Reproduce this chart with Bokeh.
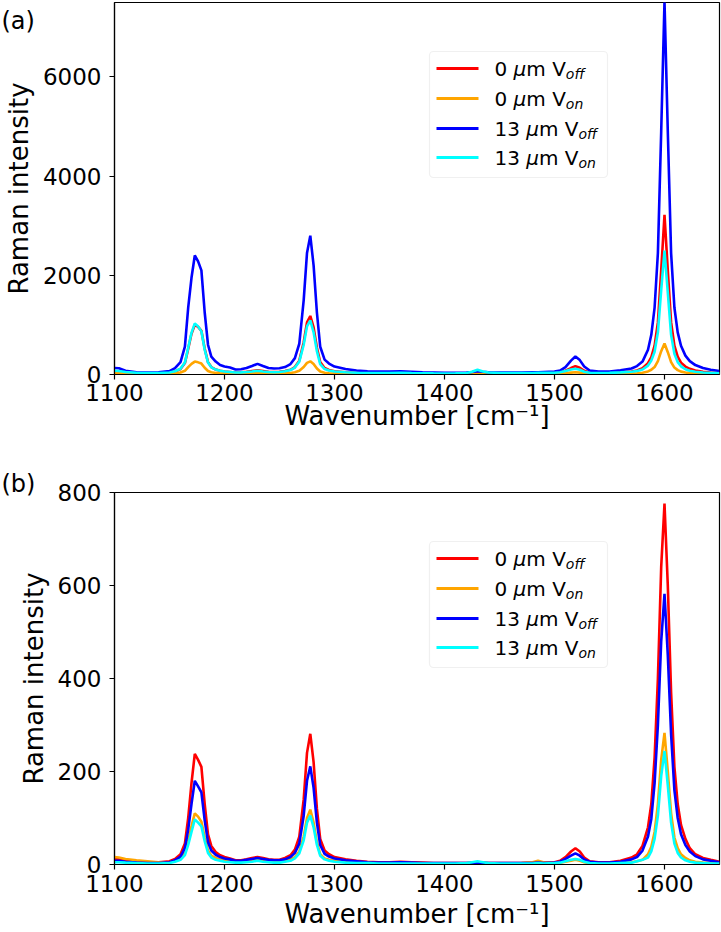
from bokeh.plotting import figure
from bokeh.models import Range1d, FixedTicker, Label, BoxAnnotation, GridBox, Column
from bokeh.embed import file_html
from bokeh.resources import INLINE

# ---------------- data ----------------
wavenumber = [
    1100, 1104, 1110, 1120, 1130, 1140, 1150, 1155, 1160, 1164,
    1167, 1170, 1173, 1176, 1179, 1182, 1185, 1188, 1192, 1196,
    1200, 1205, 1210, 1215, 1220, 1225, 1230, 1235, 1240, 1245,
    1250, 1255, 1260, 1264, 1268, 1272, 1275, 1278, 1281, 1284,
    1287, 1291, 1295, 1300, 1310, 1320, 1330, 1340, 1350, 1360,
    1370, 1380, 1390, 1400, 1410, 1420, 1425, 1430, 1435, 1440,
    1450, 1460, 1470, 1480, 1485, 1490, 1500, 1505, 1510, 1515,
    1519, 1523, 1527, 1532, 1540, 1550, 1560, 1570, 1575, 1580,
    1585, 1588, 1591, 1594, 1597, 1600, 1603, 1606, 1609, 1612,
    1615, 1619, 1623, 1628, 1635, 1642, 1650]

# panel (a)
a_0um_off = [
    60, 58, 45, 30, 25, 25, 35, 60, 110, 230,
    520, 820, 1000, 960, 880, 520, 250, 150, 100, 75,
    60, 50, 40, 45, 55, 70, 85, 70, 55, 50,
    55, 70, 95, 150, 280, 650, 1050, 1180, 950, 540,
    250, 130, 90, 65, 45, 35, 30, 28, 28, 30,
    25, 22, 20, 18, 18, 22, 30, 45, 35, 25,
    20, 20, 20, 25, 28, 25, 30, 40, 75, 130,
    168, 135, 75, 40, 30, 30, 45, 60, 80, 125,
    230, 350, 580, 1050, 2100, 3220, 2100, 1050, 580, 360,
    240, 160, 115, 80, 55, 40, 30]
a_0um_on = [
    35, 33, 25, 15, 12, 12, 15, 25, 40, 75,
    150, 215, 260, 245, 220, 135, 70, 45, 32, 25,
    20, 18, 15, 16, 18, 22, 28, 22, 18, 16,
    17, 22, 30, 45, 75, 150, 235, 265, 210, 120,
    60, 35, 25, 20, 15, 12, 10, 10, 10, 10,
    9, 8, 8, 8, 8, 10, 14, 20, 14, 10,
    9, 9, 10, 15, 25, 15, 12, 15, 25, 38,
    47, 38, 22, 12, 9, 9, 13, 20, 25, 36,
    62, 95, 150, 270, 470, 625, 450, 250, 140, 88,
    58, 40, 28, 20, 14, 10, 8]
a_13um_off = [
    130, 125, 75, 45, 40, 45, 70, 130, 250, 560,
    1350, 1950, 2400, 2280, 2100, 1250, 600, 360, 260, 190,
    160, 140, 100, 105, 130, 170, 215, 170, 130, 120,
    125, 150, 210, 330, 620, 1500, 2450, 2800, 2200, 1250,
    560, 300, 220, 160, 110, 80, 65, 60, 60, 65,
    55, 45, 40, 35, 35, 40, 50, 67, 55, 45,
    40, 40, 40, 45, 45, 50, 60, 80, 150, 280,
    364, 290, 160, 80, 60, 60, 85, 120, 170, 260,
    500, 800, 1350, 2450, 4900, 7520, 4900, 2450, 1350, 850,
    580, 380, 270, 190, 130, 95, 72]
a_13um_on = [
    75, 70, 50, 35, 30, 30, 40, 65, 115, 240,
    540, 840, 1030, 970, 870, 500, 240, 145, 100, 75,
    60, 50, 40, 42, 50, 62, 75, 62, 50, 45,
    50, 65, 90, 140, 260, 600, 970, 1090, 850, 470,
    210, 110, 80, 60, 45, 35, 30, 30, 30, 32,
    28, 25, 22, 20, 22, 30, 55, 95, 60, 40,
    30, 28, 28, 30, 35, 32, 35, 45, 70, 100,
    115, 95, 55, 35, 30, 32, 42, 55, 70, 100,
    180, 280, 460, 850, 1700, 2500, 1650, 800, 420, 250,
    165, 105, 75, 55, 40, 32, 26]

# panel (b)
b_0um_off = [
    12, 11, 8, 6, 5, 5, 7, 12, 22, 45,
    100, 175, 238, 225, 210, 130, 65, 40, 27, 20,
    16, 13, 9, 9, 11, 14, 16, 14, 11, 10,
    10, 14, 20, 32, 60, 140, 240, 281, 220, 120,
    55, 30, 22, 16, 11, 8, 6, 5, 5, 6,
    5, 4, 3, 3, 3, 3, 4, 5, 4, 3,
    3, 3, 3, 4, 5, 4, 5, 8, 16, 28,
    35, 28, 15, 7, 5, 5, 8, 15, 22, 40,
    80, 130, 230, 400, 640, 776, 600, 370, 210, 130,
    85, 55, 35, 22, 14, 10, 6]
b_0um_on = [
    16, 15, 12, 9, 7, 5, 5, 8, 13, 25,
    50, 82, 110, 103, 92, 58, 30, 19, 14, 11,
    9, 8, 6, 6, 7, 8, 10, 8, 7, 6,
    6, 8, 11, 16, 28, 60, 100, 118, 90, 48,
    22, 13, 10, 8, 6, 5, 4, 3, 3, 3,
    3, 2, 2, 2, 2, 2, 3, 4, 3, 2,
    2, 2, 3, 5, 8, 5, 3, 4, 6, 8,
    10, 8, 5, 3, 2, 2, 3, 5, 7, 10,
    22, 38, 70, 130, 225, 283, 200, 110, 58, 35,
    22, 14, 9, 6, 4, 3, 2]
b_13um_off = [
    8, 8, 6, 4, 3, 3, 5, 9, 17, 35,
    75, 130, 180, 168, 155, 95, 48, 30, 21, 16,
    13, 11, 8, 8, 10, 12, 14, 12, 10, 9,
    9, 11, 16, 25, 45, 105, 180, 211, 165, 90,
    42, 23, 17, 13, 9, 7, 5, 4, 4, 5,
    4, 3, 3, 3, 3, 3, 3, 4, 3, 3,
    3, 3, 3, 3, 4, 3, 4, 6, 12, 19,
    24, 19, 11, 6, 4, 4, 6, 11, 16, 30,
    60, 98, 175, 300, 480, 582, 450, 280, 160, 100,
    65, 42, 28, 18, 11, 8, 5]
b_13um_on = [
    5, 5, 4, 3, 2, 2, 3, 6, 10, 20,
    42, 70, 97, 90, 82, 50, 25, 15, 10, 8,
    6, 5, 4, 4, 5, 6, 8, 6, 5, 4,
    4, 6, 8, 13, 24, 52, 90, 105, 80, 42,
    19, 11, 8, 6, 4, 3, 3, 2, 2, 2,
    2, 2, 2, 2, 2, 3, 5, 7, 5, 3,
    2, 2, 2, 2, 3, 2, 3, 4, 7, 10,
    12, 10, 6, 3, 2, 2, 3, 4, 7, 10,
    15, 28, 55, 105, 190, 244, 170, 90, 45, 25,
    15, 9, 6, 4, 3, 2, 2]

x_ticks = [1100, 1200, 1300, 1400, 1500, 1600]
a_y_ticks = [0, 2000, 4000, 6000]
b_y_ticks = [0, 200, 400, 600, 800]

series_colors = ["#ff0000", "#ffa500", "#0000ff", "#00ffff"]
legend_prefix = ["0 ", "0 ", "13 ", "13 "]
legend_sub = ["off", "on", "off", "on"]

FONT = "DejaVu Sans"
# approximate DejaVu Sans advance widths (em)
ADV = {"0": 0.636, "1": 0.636, "3": 0.636, " ": 0.318, "μ": 0.636,
       "m": 0.974, "V": 0.684}


def text_width(s, size):
    return sum(ADV.get(ch, 0.6) for ch in s) * size


def add_legend(p, frame_h):
    # geometry in screen px relative to frame (left, bottom)
    box_left, box_right = 315, 493
    box_top_off, box_bot_off = 49, 175
    p.add_layout(BoxAnnotation(
        left=box_left, right=box_right,
        top=frame_h - box_top_off, bottom=frame_h - box_bot_off,
        left_units="screen", right_units="screen",
        top_units="screen", bottom_units="screen",
        fill_color="white", fill_alpha=0.85,
        line_color="#cccccc", line_width=1.2, border_radius=4))
    rows = [66, 96, 126, 155]
    fs = 20
    for i, c in enumerate(series_colors):
        yc = frame_h - rows[i]
        p.add_layout(BoxAnnotation(
            left=322, right=364, top=yc + 1.4, bottom=yc - 1.4,
            left_units="screen", right_units="screen",
            top_units="screen", bottom_units="screen",
            fill_color=c, fill_alpha=1.0, line_color=None))
        base = yc - 0.5
        x = 380
        pieces = [(legend_prefix[i], "normal"), ("μ", "italic"), ("m V", "normal")]
        for txt, style in pieces:
            p.add_layout(Label(x=x, y=base, x_units="screen", y_units="screen",
                               text=txt, text_font=FONT, text_font_size=f"{fs}px",
                               text_font_style=style, text_color="black",
                               text_baseline="alphabetic", text_align="left"))
            x += text_width(txt, fs)
        p.add_layout(Label(x=x, y=base - 5, x_units="screen", y_units="screen",
                           text=legend_sub[i], text_font=FONT, text_font_size="14px",
                           text_font_style="italic", text_color="black",
                           text_baseline="alphabetic", text_align="left"))


def make_panel(series, y_max, y_ticks, top, bottom, x_stand, x_lab_stand):
    height = 466
    frame_h = height - top - bottom
    p = figure(width=721, height=height, output_backend="svg",
               toolbar_location=None,
               x_range=Range1d(1100, 1650), y_range=Range1d(0, y_max),
               min_border_left=110, min_border_right=2,
               min_border_top=top, min_border_bottom=bottom)
    p.grid.visible = False
    p.outline_line_color = "black"
    p.outline_line_width = 1.2
    p.background_fill_color = "white"
    p.border_fill_alpha = 0

    for ys, c in zip(series, series_colors):
        p.line(wavenumber, ys, line_color=c, line_width=2.6)

    for ax in (p.xaxis[0], p.yaxis[0]):
        ax.axis_line_color = "black"
        ax.axis_line_width = 1.2
        ax.major_tick_line_color = "black"
        ax.major_tick_line_width = 1.2
        ax.major_tick_out = 5
        ax.major_tick_in = 0
        ax.minor_tick_out = 0
        ax.minor_tick_in = 0
        ax.major_label_text_font = FONT
        ax.major_label_text_font_size = "23px"
        ax.major_label_text_color = "black"
        ax.axis_label_text_font = FONT
        ax.axis_label_text_font_size = "26px"
        ax.axis_label_text_font_style = "normal"
        ax.axis_label_text_color = "black"

    p.xaxis.ticker = FixedTicker(ticks=x_ticks)
    p.yaxis.ticker = FixedTicker(ticks=y_ticks)
    p.xaxis.axis_label = "Wavenumber [cm\u207b\u00b9]"
    p.yaxis.axis_label = "Raman intensity"
    p.xaxis.major_label_standoff = x_stand
    p.xaxis.axis_label_standoff = x_lab_stand
    p.yaxis.major_label_standoff = 8
    p.yaxis.axis_label_standoff = 6
    add_legend(p, frame_h)
    return p


def make_tag(text, top_space):
    # small transparent canvas laid over the panel's top-left corner;
    # the tag text is its title, so it is never clipped by a frame
    t = figure(title=text, width=60, height=top_space + 16, output_backend="svg",
               toolbar_location=None,
               x_range=Range1d(0, 1), y_range=Range1d(0, 1),
               x_axis_type=None, y_axis_type=None,
               min_border_left=0, min_border_right=0,
               min_border_top=top_space, min_border_bottom=0)
    t.grid.visible = False
    t.outline_line_color = None
    t.background_fill_alpha = 0
    t.border_fill_alpha = 0
    t.title.text_font = FONT
    t.title.text_font_size = "24px"
    t.title.text_font_style = "normal"
    t.title.text_color = "black"
    t.title.align = "left"
    t.title.offset = 1
    t.title.standoff = 0
    # wrapped in its own column so the grid does not align its frame with the panel's
    return Column(children=[t], width=60, height=top_space + 16, align="start")


pa = make_panel([a_0um_off, a_0um_on, a_13um_off, a_13um_on], 7500, a_y_ticks,
                2, 92, 4, -3)
pb = make_panel([b_0um_off, b_0um_on, b_13um_off, b_13um_on], 800, b_y_ticks,
                26, 68, 5, 4)
ta = make_tag("(a)", 34)
tb = make_tag("(b)", 31)

layout = GridBox(children=[(pa, 0, 0), (pb, 1, 0), (ta, 0, 0), (tb, 1, 0)],
                 spacing=0)
open("out.html", "w").write(file_html(layout, INLINE))
